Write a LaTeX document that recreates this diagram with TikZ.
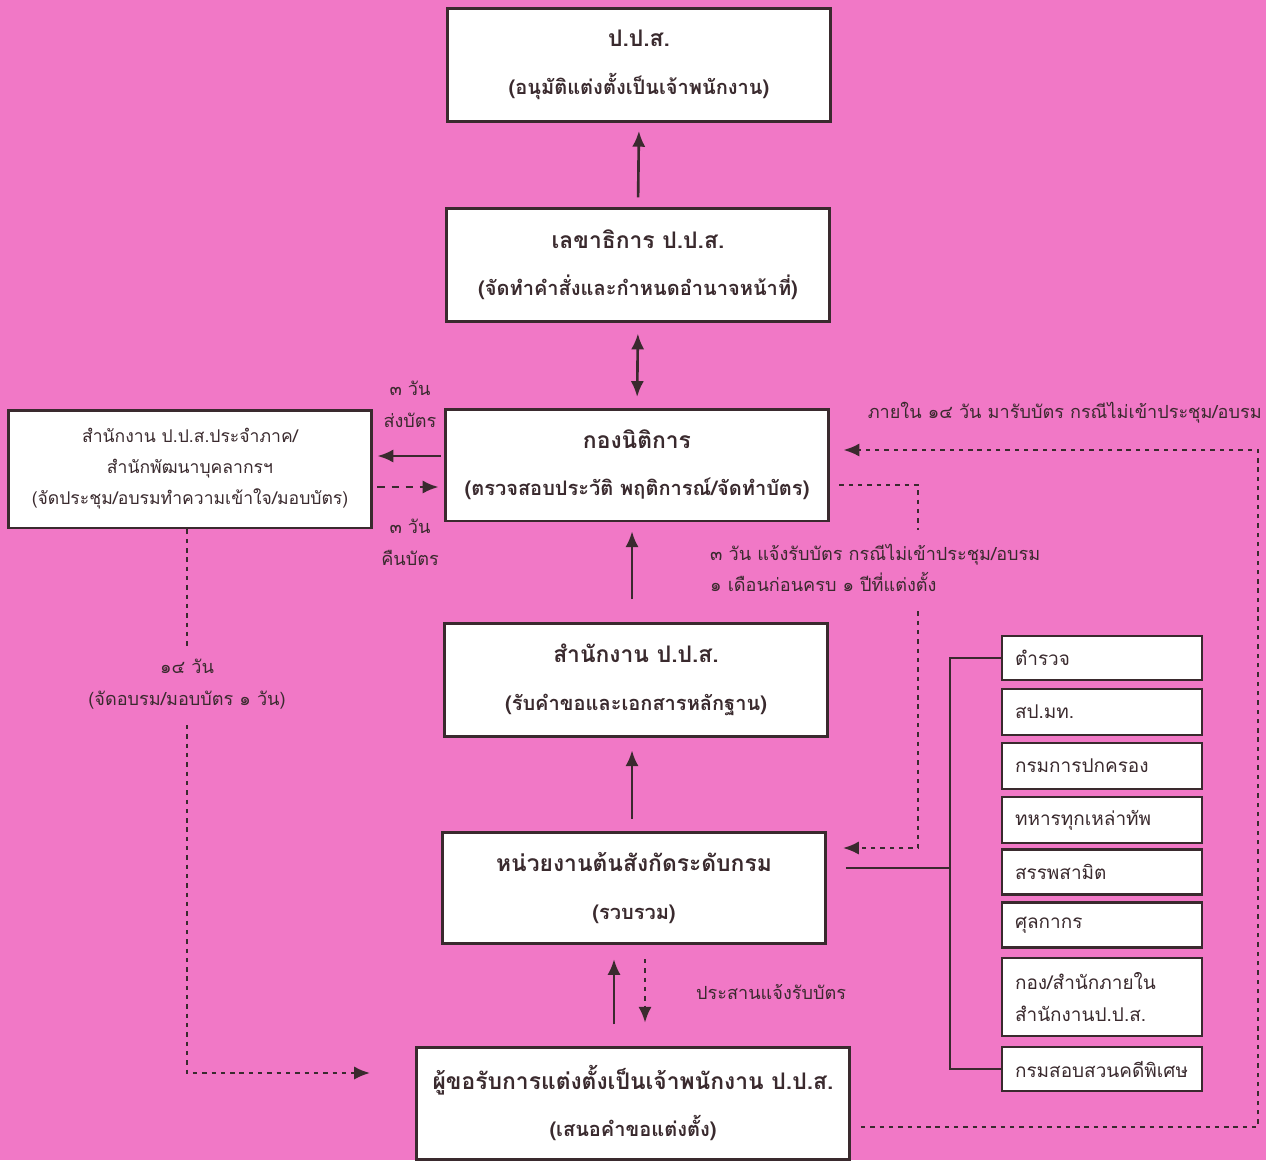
\documentclass[tikz,border=0pt]{standalone}
\usepackage{fontspec}
\newfontfamily\thaifont[Script=Thai]{Loma}
\usepackage{xcolor}
\usetikzlibrary{calc}
\usetikzlibrary{arrows,arrows.meta}
\tikzset{>={Latex[length=9pt,width=7.5pt]}}
\definecolor{bgpink}{RGB}{241,120,198}
\definecolor{ink}{RGB}{58,42,46}

\tikzset{
	mainbox/.style={draw=ink,line width=1.7pt,fill=white,align=center,
		font=\thaifont\bfseries\fontsize{11.4}{21}\selectfont,text=ink},
	sidebox/.style={draw=ink,line width=1.6pt,fill=white,align=left,
		text width=3.48cm,inner xsep=0.26cm,
		font=\thaifont\fontsize{10.8}{18}\selectfont,text=ink},
	note/.style={font=\thaifont\fontsize{10.3}{18}\selectfont,text=ink,align=center},
	link/.style={draw=ink,line width=1.5pt},
	dots/.style={draw=ink,line width=1.4pt,dash pattern=on 2.5pt off 2.8pt}
}

\begin{document}
\begin{tikzpicture}[x=0.02cm,y=-0.02cm]
	\def\twoline#1#2{{\fontsize{13}{21}\selectfont #1}\\[6pt]#2}
	\fill[bgpink] (0,0) rectangle (1266,1160);
	\useasboundingbox (0,0) rectangle (1266,1160);

	% main column
	\node[mainbox,minimum width=7.68cm,minimum height=2.26cm] (pps) at (639,65)
		{\twoline{ป.ป.ส.}{(อนุมัติแต่งตั้งเป็นเจ้าพนักงาน)}};
	\node[mainbox,minimum width=7.66cm,minimum height=2.26cm] (sec) at (638,265)
		{\twoline{เลขาธิการ ป.ป.ส.}{(จัดทำคำสั่งและกำหนดอำนาจหน้าที่)}};
	\node[mainbox,minimum width=7.68cm,minimum height=2.24cm] (legal) at (637,465)
		{\twoline{กองนิติการ}{(ตรวจสอบประวัติ พฤติการณ์/จัดทำบัตร)}};
	\node[mainbox,minimum width=7.66cm,minimum height=2.26cm] (office) at (636,680)
		{\twoline{สำนักงาน ป.ป.ส.}{(รับคำขอและเอกสารหลักฐาน)}};
	\node[mainbox,minimum width=7.66cm,minimum height=2.22cm] (dept) at (634,888)
		{\twoline{หน่วยงานต้นสังกัดระดับกรม}{(รวบรวม)}};
	\node[mainbox,minimum width=8.66cm,minimum height=2.24cm] (appl) at (633,1103)
		{\twoline{ผู้ขอรับการแต่งตั้งเป็นเจ้าพนักงาน ป.ป.ส.}{(เสนอคำขอแต่งตั้ง)}};

	% regional office
	\node[mainbox,font=\thaifont\fontsize{10}{17.6}\selectfont,
		minimum width=7.28cm,minimum height=2.36cm] (region) at (190,469)
		{สำนักงาน ป.ป.ส.ประจำภาค/\\สำนักพัฒนาบุคลากรฯ\\(จัดประชุม/อบรมทำความเข้าใจ/มอบบัตร)};

	% agencies
	\node[sidebox,minimum height=0.88cm] (police) at (1102,658) {ตำรวจ};
	\node[sidebox,minimum height=0.92cm] (moi) at (1102,712) {สป.มท.};
	\node[sidebox,minimum height=0.92cm] (dopa) at (1102,766) {กรมการปกครอง};
	\node[sidebox,minimum height=0.92cm] (army) at (1102,820) {ทหารทุกเหล่าทัพ};
	\node[sidebox,minimum height=0.90cm] (excise) at (1102,872) {สรรพสามิต};
	\node[sidebox,minimum height=0.90cm] (customs) at (1102,925) {ศุลกากร};
	\node[sidebox,minimum height=1.56cm] (inner) at (1102,997) {กอง/สำนักภายใน\\สำนักงานป.ป.ส.};
	\node[sidebox,minimum height=0.88cm] (dsi) at (1102,1069) {กรมสอบสวนคดีพิเศษ};

	% solid arrows up the column
	\draw[link,->,shorten <=5.5pt,shorten >=4.5pt] (sec.north) -- (pps.south);
	\draw[link,<->,shorten <=6pt,shorten >=6pt] (sec.south) -- (legal.north);
	\draw[link,->,shorten <=13pt,shorten >=5pt] ($(office.north)+(-4,0)$) -- ($(legal.south)+(-5,0)$);
	\draw[link,->,shorten <=7pt,shorten >=7pt] ($(dept.north)+(-2,0)$) -- ($(office.south)+(-4,0)$);
	\draw[link,->,shorten <=12pt,shorten >=8pt] ($(appl.north)+(-19,0)$) -- ($(dept.south)+(-20,0)$);
	\draw[dots,->,shorten <=8pt,shorten >=13pt] ($(dept.south)+(11,0)$) -- ($(appl.north)+(12,0)$);
	\node[note,anchor=west] (coord) at (690,992) {ประสานแจ้งรับบัตร};

	% legal <-> region
	\draw[link,->] ($(legal.west)+(-3,-9)$) coordinate (s1) -- ($(s1 -| region.east)+(4,0)$);
	\draw[link,->,dash pattern=on 4.5pt off 3.5pt] ($(region.east)+(4,18)$) coordinate (s2)
		-- ($(s2 -| legal.west)+(-5,0)$);
	\node[note] (send) at (410,404) {๓ วัน\\ส่งบัตร};
	\node[note] (back) at (410,542) {๓ วัน\\คืนบัตร};

	% region -> applicant
	\coordinate (tin) at ($(appl.west)+(-45,-30)$);
	\draw[dots,->] ($(region.south)+(-3,0)$) |- (tin);
	\node[note,fill=bgpink,inner ysep=6pt] (train) at (187,684)
		{๑๔ วัน\\(จัดอบรม/มอบบัตร ๑ วัน)};

	% legal -> dept
	\coordinate (nin) at ($(dept.east)+(16,-40)$);
	\draw[dots,->] ($(legal.east)+(9,20)$) -- (918,485) |- (nin);
	\node[note,anchor=west,align=left,fill=bgpink,inner ysep=8pt] (remind) at (704,568)
		{๓ วัน แจ้งรับบัตร กรณีไม่เข้าประชุม/อบรม\\๑ เดือนก่อนครบ ๑ ปีที่แต่งตั้ง};

	% applicant -> legal
	\coordinate (lin) at ($(legal.east)+(13,-15)$);
	\draw[dots,->] ($(appl.east)+(10,24)$) -- (1258,1127) |- (lin);
	\node[note,anchor=east,inner sep=0pt] (pick) at (1262,413) {ภายใน ๑๔ วัน มารับบัตร กรณีไม่เข้าประชุม/อบรม};

	% dept -> agencies
	\draw[link] ($(dept.east)+(19,-20)$) -- (950,868);
	\draw[link] (police.west) -| (950,1069) -- (dsi.west);
\end{tikzpicture}
\end{document}
